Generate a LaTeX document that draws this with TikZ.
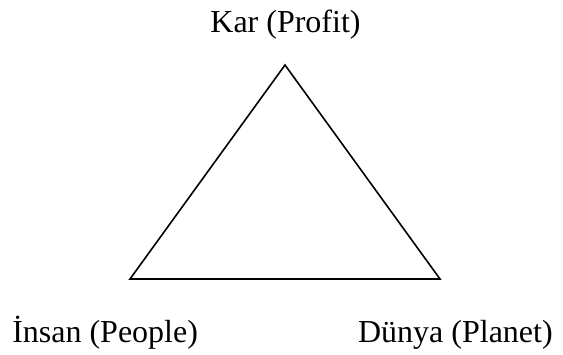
\documentclass[tikz,border=0pt]{standalone}
\usepackage{fontspec}
\setmainfont{Liberation Serif}
\usepackage{tikz}
\usetikzlibrary{positioning}

\begin{document}
\begin{tikzpicture}[
x=0.75pt, y=-0.75pt,
label/.style={inner sep=0pt, font=\fontsize{24}{28}\selectfont},
side/.style={line width=1.2pt, line join=miter}
]
\useasboundingbox (0,0) rectangle (563,354);
\coordinate (top) at (285,65);
\coordinate (left) at (130,279);
\coordinate (right) at (440,279);
\node[label, anchor=base] (kar) at (285.5,32) {Kar (Profit)};
\node[label, anchor=base west] (insan) at (12,342) {İnsan (People)};
\node[label, anchor=base east] (dunya) at (553,342) {Dünya (Planet)};
\draw[side] (top) -- (right) -- (left) -- cycle;
\end{tikzpicture}
\end{document}
